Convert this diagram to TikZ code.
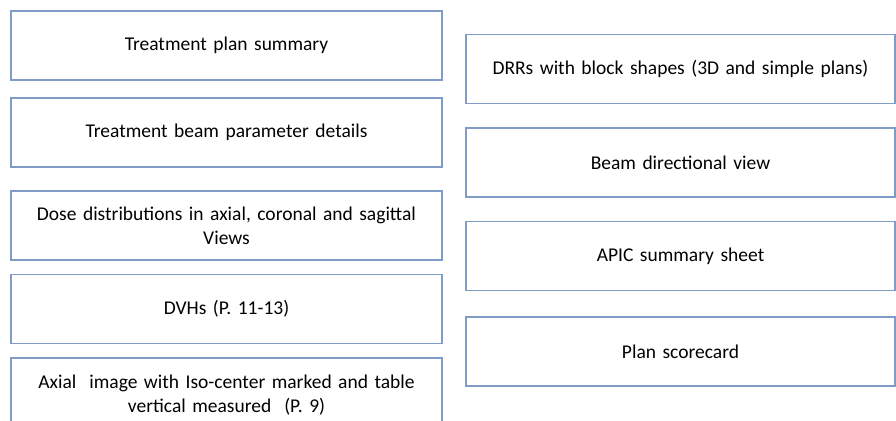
\documentclass[tikz,border=0pt]{standalone}
\usepackage{fontspec}
\setmainfont{Carlito}
\definecolor{boxline}{RGB}{128,156,198}
\definecolor{boxtext}{RGB}{0,0,0}
% card text: Carlito at 19.5pt with slightly tighter word spaces
\newcommand{\cardfont}{\fontsize{19.5}{24}\selectfont\spaceskip=4pt plus 1pt minus 1pt\relax}
\tikzset{
  card/.style={draw=boxline, line width=1.1pt, fill=white, inner sep=0pt,
    minimum height=69pt, align=center, text=boxtext, font=\cardfont},
  leftcard/.style={card, minimum width=431pt, text width=420pt},
  rightcard/.style={card, minimum width=429pt, text width=420pt}
}
\begin{document}
\begin{tikzpicture}[x=1pt, y=-1pt]
  \useasboundingbox (0,0) rectangle (896,420);
  \clip (0,0) rectangle (896,420);
  \fill[white] (0,0) rectangle (896,420);
  % left column
  \node[leftcard] (plan)  at (226.5,45.5)  {Treatment plan summary};
  \node[leftcard] (beam)  at (226.5,132.5) {Treatment beam parameter details};
  \node[leftcard] (dose)  at (226.5,225.5) {Dose distributions in axial, coronal and sagittal\\Views};
  \node[leftcard] (dvh)   at (226.5,309)   {DVHs (P. 11-13)};
  \node[leftcard, minimum height=74pt] (axial) at (226.5,395) {Axial\ \ image with Iso-center marked and table\\vertical measured\ \ (P. 9)};
  % right column
  \node[rightcard] (drr)   at (680.5,69)    {DRRs with block shapes (3D and simple plans)};
  \node[rightcard] (bev)   at (680.5,162.5) {Beam directional view};
  \node[rightcard] (apic)  at (680.5,256)   {APIC summary sheet};
  \node[rightcard] (score) at (680.5,351.5) {Plan scorecard};
\end{tikzpicture}
\end{document}
